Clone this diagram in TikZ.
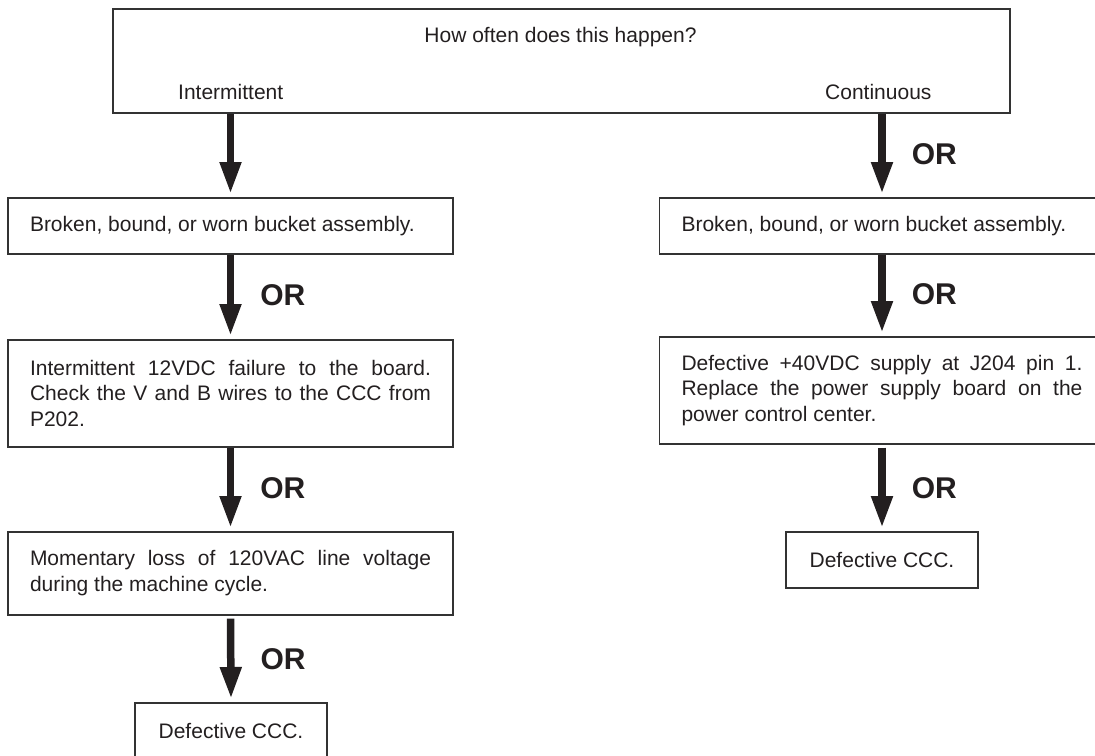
\documentclass[tikz,border=0pt]{standalone}
\usepackage{fontspec}
\setmainfont{Liberation Sans}
\usetikzlibrary{arrows.meta}
\definecolor{ink}{HTML}{231F20}
\definecolor{edge}{HTML}{333333}
\tikzset{
  boxline/.style={draw=edge, line width=1.6pt},
  tbox/.style={boxline, text=ink, font=\fontsize{21}{25.5}\selectfont,
    text width=401pt, align=justify, inner xsep=22pt, inner ysep=0pt, anchor=north},
  cbox/.style={boxline, text=ink, font=\fontsize{21}{25.5}\selectfont,
    inner xsep=0pt, inner ysep=0pt, anchor=north},
  lbl/.style={text=ink, font=\fontsize{21}{25.5}\selectfont, inner sep=0pt, anchor=base west},
  bigarrow/.style={draw=ink, line width=7.5pt, -{Triangle[width=20pt,length=32pt]}},
  orlbl/.style={text=ink, font=\fontsize{30}{30}\bfseries\selectfont, inner sep=0pt, anchor=west, xshift=26pt}
}
\begin{document}
\begin{tikzpicture}[x=1pt,y=-1pt]
\useasboundingbox (0,0) rectangle (1095,755);
\clip (0,0) rectangle (1095,755);
% top box
\node[boxline, minimum width=897pt, minimum height=104pt, anchor=north west, inner sep=0pt] (top) at (112,8) {};
\node[text=ink, font=\fontsize{21}{25.5}\selectfont, inner sep=0pt, anchor=base] (q) at (560.5,42) {How often does this happen?};
\node[lbl] (int) at (178,99) {Intermittent};
\node[lbl] (cont) at (825,99) {Continuous};
% left column
\node[tbox, minimum height=56pt] (l1) at (230.5,197) {Broken, bound, or worn bucket assembly.};
\node[tbox, minimum height=107pt] (l2) at (230.5,339) {Intermittent 12VDC failure to the board.\linebreak Check the V and B wires to the CCC from\linebreak P202.};
\node[tbox, minimum height=83pt] (l3) at (230.5,531) {Momentary loss of 120VAC line voltage\linebreak during the machine cycle.};
\node[cbox, minimum width=192pt, minimum height=56pt] (l4) at (231,702) {Defective CCC.};
% right column
\node[tbox, minimum height=56pt] (r1) at (882,197) {Broken, bound, or worn bucket assembly.};
\node[tbox, minimum height=107pt] (r2) at (882,336) {Defective +40VDC supply at J204 pin 1.\linebreak Replace the power supply board on the\linebreak power control center.};
\node[cbox, minimum width=192pt, minimum height=56pt] (r3) at (882,531) {Defective CCC.};
% arrows
\draw[bigarrow] (top.south -| l1.north) -- ([yshift=3pt]l1.north);
\draw[bigarrow] (l1.south) -- ([yshift=3pt]l2.north) node[midway, orlbl] (or1) {OR};
\draw[bigarrow] (l2.south) -- ([yshift=3pt]l3.north) node[midway, orlbl] (or2) {OR};
\draw[bigarrow] ([yshift=-3pt]l3.south) -- ([yshift=3pt]l4.north) node[midway, orlbl] (or3) {OR};
\draw[bigarrow] (top.south -| r1.north) -- ([yshift=3pt]r1.north) node[midway, orlbl] (or4) {OR};
\draw[bigarrow] (r1.south) -- ([yshift=3pt]r2.north) node[midway, orlbl] (or5) {OR};
\draw[bigarrow] ([yshift=-3pt]r2.south) -- ([yshift=3pt]r3.north) node[midway, orlbl] (or6) {OR};
\end{tikzpicture}
\end{document}
